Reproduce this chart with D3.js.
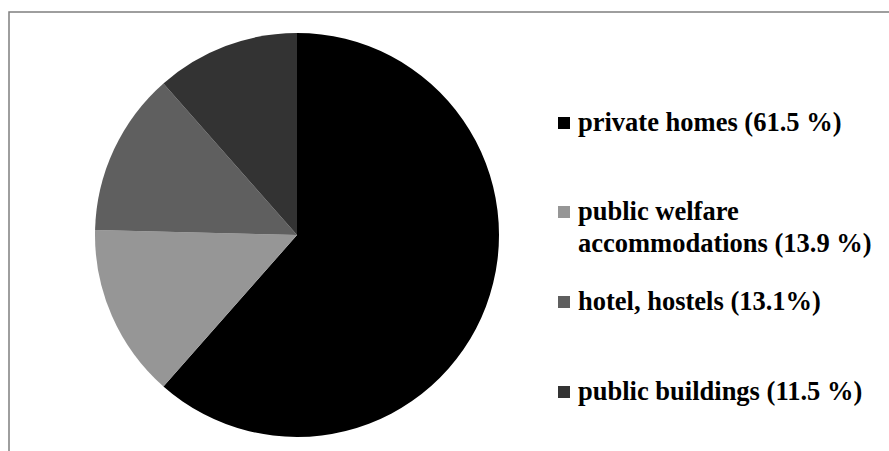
<!DOCTYPE html>
<html>
<head>
<meta charset="utf-8">
<script src="https://cdn.jsdelivr.net/npm/d3@7"></script>
<style>
  body { margin: 0; background: #fff; }
  svg { display: block; }
  .legend text { font-family: "Liberation Serif", "Times New Roman", Times, serif; font-weight: bold; font-size: 26.5px; }
</style>
</head>
<body>
<div id="chart"></div>
<script>
// slices, clockwise from 12 o'clock
var categories = ["private homes", "public welfare accommodations", "hotel, hostels", "public buildings"];
var shares = [61.5, 13.9, 13.1, 11.5];
var legend_lines = [["private homes (61.5 %)"],
                    ["public welfare", "accommodations (13.9 %)"],
                    ["hotel, hostels (13.1%)"],
                    ["public buildings (11.5 %)"]];
var colors = ["#000000", "#969696", "#5f5f5f", "#333333"];

var width = 889, height = 451;

var svg = d3.select("#chart").append("svg")
    .attr("width", width)
    .attr("height", height);

// chart frame (right and bottom edges fall outside the picture)
svg.append("rect")
    .attr("x", 9).attr("y", 12)
    .attr("width", 900).attr("height", 460)
    .attr("fill", "none")
    .attr("stroke", "#7f7f7f")
    .attr("stroke-width", 1.5);

var data = categories.map(function(c, i){ return {name: c, value: shares[i], color: colors[i], lines: legend_lines[i]}; });

var pie = d3.pie().sort(null).value(function(d){ return d.value; });
var arc = d3.arc().innerRadius(0).outerRadius(202);

var pie_g = svg.append("g").attr("transform", "translate(297,235)");
pie_g.selectAll("path")
    .data(pie(data))
    .enter()
    .append("path")
    .attr("d", arc)
    .attr("fill", function(d){ return d.data.color; });

// legend
var legend_y = [131, 220, 310, 400];
var legend = svg.selectAll(".legend")
    .data(data)
    .enter()
    .append("g")
    .attr("class", "legend")
    .attr("transform", function(d, i){ return "translate(558," + legend_y[i] + ")"; });

legend.append("rect")
    .attr("x", 0).attr("y", -14)
    .attr("width", 12).attr("height", 12)
    .attr("fill", function(d){ return d.color; });

legend.append("text")
    .attr("fill", "#000")
    .selectAll("tspan")
    .data(function(d){ return d.lines; })
    .enter()
    .append("tspan")
    .attr("x", 20)
    .attr("y", function(d, i){ return i * 32; })
    .text(function(d){ return d; });
</script>
</body>
</html>
